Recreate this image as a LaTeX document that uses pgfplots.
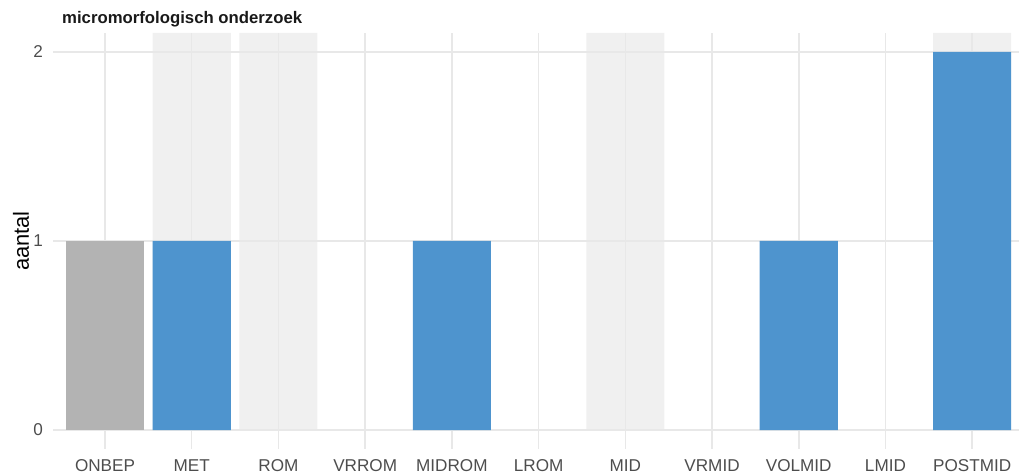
\documentclass[border=0pt]{standalone}
\usepackage{fontspec}
\setmainfont{Liberation Sans}
\usepackage{pgfplots}
\pgfplotsset{compat=1.18}
\definecolor{bandgrey}{HTML}{F0F0F0}
\definecolor{gridgrey}{HTML}{E8E8E8}
\definecolor{bargrey}{HTML}{B3B3B3}
\definecolor{barblue}{HTML}{4E94CE}
\definecolor{ticktext}{HTML}{4D4D4D}
\begin{document}
\begin{tikzpicture}
\begin{axis}[
  set layers=standard,
  scale only axis,
  width=966bp, height=416bp,
  xmin=-0.6, xmax=10.54,
  ymin=-0.1, ymax=2.1,
  xtick={0,...,10},
  xticklabels={ONBEP,MET,ROM,VRROM,MIDROM,LROM,MID,VRMID,VOLMID,LMID,POSTMID},
  ytick={0,1,2},
  /pgf/number format/assume math mode=true,
  axis line style={draw=none},
  major tick length=0pt,
  xmajorgrids, ymajorgrids,
  major grid style={draw=gridgrey, line width=1.5bp},
  ticklabel style={font=\fontsize{17.2}{19}\selectfont, text=ticktext, inner sep=0pt},
  xticklabel style={anchor=base, yshift=-22bp},
  yticklabel style={anchor=east, xshift=-10bp},
  ylabel={aantal},
  every axis y label/.style={at={([xshift=-32bp]axis description cs:0,0.5)}, anchor=center, rotate=90, font=\fontsize{22}{24}\selectfont, text=black},
  title={micromorfologisch onderzoek},
  every axis title/.style={at={([xshift=9bp,yshift=9bp]axis description cs:0,1)}, anchor=base west, inner sep=0pt, font=\bfseries\fontsize{16.8}{18}\selectfont, text=black!90},
  clip=true,
]
\addplot[on layer=axis background, ybar, bar width=0.9, bar shift=0pt, fill=bandgrey, draw=none]
  coordinates {(1,2.1) (2,2.1) (6,2.1) (10,2.1)};
\addplot[ybar, bar width=0.9, bar shift=0pt, fill=bargrey, draw=none]
  coordinates {(0,1)};
\addplot[ybar, bar width=0.9, bar shift=0pt, fill=barblue, draw=none]
  coordinates {(1,1) (4,1) (8,1) (10,2)};
\end{axis}
\pgfresetboundingbox
\path (-53bp,-26bp) rectangle (966bp,449bp);
\end{tikzpicture}
\end{document}
